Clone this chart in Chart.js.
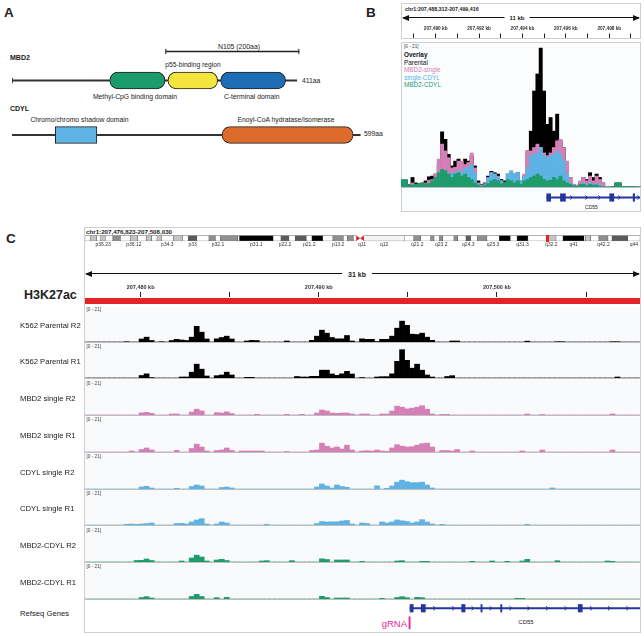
<!DOCTYPE html>
<html>
<head>
<meta charset="utf-8">
<title>MBD2 / CDYL and H3K27ac at CD55</title>
<script src="https://cdn.jsdelivr.net/npm/chart.js@4.4.1/dist/chart.umd.min.js"></script>
<style>
  body { margin: 0; width: 644px; height: 636px; position: relative; overflow: hidden; background: #fff;
         font-family: "Liberation Sans", Arial, Helvetica, sans-serif; color: #222; }
  canvas { position: absolute; }
  .t { position: absolute; white-space: nowrap; line-height: 1; transform: translateY(-50%); }
  .c { transform: translate(-50%, -50%); }
  .r { transform: translate(-100%, -50%); }
  .b { font-weight: bold; }
  .panel { position: absolute; font-weight: bold; font-size: 13.5px; line-height: 1; }
  .box { position: absolute; box-sizing: border-box; border: 1px solid #cfcfcf; }
  .arrow { position: absolute; height: 1.2px; background: #111; }
  .arrow::before, .arrow::after { content: ''; position: absolute; top: -2.4px;
         border-top: 3px solid transparent; border-bottom: 3px solid transparent; }
  .arrow::before { left: -1px; border-right: 7px solid #111; }
  .arrow::after { right: -1px; border-left: 7px solid #111; }
  .track { position: absolute; left: 85px; width: 555px; box-sizing: border-box; background: #f9fafc;
           border-bottom: 1.4px solid #bdbdbd; }
  .range { font-size: 4.7px; color: #444; }
  .tlab { font-size: 7.7px; color: #222; }
  .leg { font-size: 6.4px; }
</style>
</head>
<body>
<!-- panel A -->
<div class="panel" style="left:4px;top:6px">A</div>
<div class="t b" style="left:10px;top:57px;font-size:7px">MBD2</div>
<div class="t c" style="left:239px;top:46.5px;font-size:6.9px">N105 (200aa)</div>
<div class="t c" style="left:193px;top:65px;font-size:6.7px">p55-binding region</div>
<div class="t" style="left:302px;top:80.5px;font-size:6.8px">411aa</div>
<div class="t c" style="left:135px;top:96.7px;font-size:6.8px">Methyl-CpG binding domain</div>
<div class="t c" style="left:251.7px;top:96.7px;font-size:6.8px">C-terminal domain</div>
<div class="t b" style="left:10px;top:108.3px;font-size:7px">CDYL</div>
<div class="t c" style="left:79.5px;top:120px;font-size:6.8px">Chromo/chromo shadow domain</div>
<div class="t c" style="left:286px;top:120px;font-size:6.8px">Enoyl-CoA hydratase/isomerase</div>
<div class="t" style="left:364px;top:134px;font-size:6.8px">599aa</div>

<!-- panel B -->
<div class="panel" style="left:366px;top:6px">B</div>
<div class="box" style="left:401px;top:3px;width:240px;height:36px;background:#fff"></div>
<div class="t b" style="left:405px;top:10px;font-size:5.3px">chr1:207,488,312-207,499,416</div>
<div class="arrow" style="left:403px;top:17px;width:236px"></div>
<div class="t c b" style="left:517px;top:17.6px;font-size:6px;background:#fff;padding:0 5px">11 kb</div>
<div class="box" style="left:401px;top:42px;width:240px;height:170px;background:#fbfcfd"></div>
<div class="t range" style="left:404px;top:46.5px">[0 - 21]</div>
<div class="t leg b" style="left:404px;top:55px;color:#111">Overlay</div>
<div class="t leg" style="left:404px;top:62.6px;color:#111">Parental</div>
<div class="t leg" style="left:404px;top:70.2px;color:#d47fb6">MBD2-single</div>
<div class="t leg" style="left:404px;top:77.8px;color:#5cb3e4">single-CDYL</div>
<div class="t leg" style="left:404px;top:85.4px;color:#1e9c6c">MBD2-CDYL</div>
<div style="position:absolute;left:402px;top:187px;width:238px;height:1.2px;background:#bdbdbd"></div>
<div class="t c" style="left:591.5px;top:207px;font-size:5px">CD55</div>

<!-- panel C -->
<div class="panel t" style="left:6px;top:239px">C</div>
<div class="t b" style="left:86px;top:232px;font-size:6.2px">chr1:207,476,823-207,508,030</div>
<div class="arrow" style="left:86px;top:273px;width:553px"></div>
<div class="t c b" style="left:357px;top:273.6px;font-size:7px;background:#fff;padding:0 6px">31 kb</div>
<div class="t b" style="left:24px;top:295px;font-size:12.5px">H3K27ac</div>
<div class="t tlab" style="left:20px;top:614px">Refseq Genes</div>
<div class="t r" style="left:407px;top:624px;font-size:9.5px;color:#e3289b">gRNA</div>
<div class="t c" style="left:526px;top:621.7px;font-size:6px">CD55</div>

<script>
// ---- A: protein domains, in amino acids ----
const mbd2Length = 411;
const mbd2Domains = [[141, 221], [225, 297], [301, 395]]; // MBD, p55-binding, C-terminal
const n105Span = [222, 414];
const cdylLength = 599;
const cdylDomains = [[74.5, 146], [361, 587]]; // chromo, enoyl-CoA

// ---- B: overlay view, chr1:207,488,312-207,499,416 (kb) ----
const bWindow = [207488.312, 207499.416];
const bRulerTicks = [207489, 207490, 207491, 207492, 207493, 207494, 207495, 207496, 207497, 207498, 207499];
const bRulerLabels = [207490, 207492, 207494, 207496, 207498];
const bParental = [
  1.0, 1.0, 0.4, 1.4, 0.6, 0.5, 0.6, 0.9, 1.5, 1.6,
  1.9, 3.3, 8.1, 7.0, 4.8, 3.1, 3.8, 4.1, 3.6, 4.1,
  3.8, 4.6, 3.1, 0.9, 0.4, 0.6, 1.6, 2.3, 2.1, 1.9,
  1.1, 0.9, 1.9, 2.1, 1.9, 2.1, 0.9, 1.6, 5.3, 8.2,
  14.1, 16.6, 20.4, 14.1, 9.2, 10.2, 8.2, 10.7, 6.8, 5.8,
  2.8, 1.4, 0.4, 0.2, 0.6, 1.4, 1.1, 2.1, 1.4, 1.9,
  1.4, 0.6, 0.1, 0.1, 0.1, 0.6, 0.6, 0.1, 0.1, 0.1,
  0, 0, 0];
const bMbd2Single = [
  0.3, 0.3, 0.3, 0.6, 0.4, 0.4, 0.5, 0.6, 1.0, 1.1,
  1.9, 4.1, 6.3, 5.3, 4.3, 2.8, 2.9, 3.8, 3.8, 3.3,
  3.6, 5.0, 2.8, 0.6, 0.3, 0.5, 1.3, 2.1, 1.9, 1.6,
  0.9, 0.6, 1.9, 2.1, 1.6, 2.1, 0.9, 1.9, 5.3, 5.3,
  5.8, 6.3, 5.8, 5.0, 4.6, 5.0, 5.8, 6.8, 7.0, 5.8,
  3.8, 1.4, 0.4, 0.3, 0.9, 1.4, 0.9, 1.6, 0.9, 1.6,
  1.1, 0.6, 0.1, 0.1, 0, 0, 0, 0, 0, 0,
  0, 0, 0];
const bSingleCdyl = [
  0.3, 0.3, 0.3, 0.4, 0.4, 0.4, 0.4, 0.4, 0.4, 0.6,
  1.1, 1.9, 2.6, 1.9, 2.1, 1.9, 2.1, 2.4, 2.1, 2.8,
  2.8, 3.3, 2.1, 0.4, 0.2, 0.4, 1.4, 2.1, 1.9, 1.4,
  0.9, 0.6, 1.9, 2.4, 1.9, 2.1, 0.9, 1.6, 2.8, 4.6,
  4.8, 5.0, 5.8, 4.6, 4.3, 4.6, 4.8, 5.3, 4.8, 3.8,
  1.9, 0.6, 0.3, 0.1, 0.4, 0.6, 0.4, 0.6, 0.4, 0.5,
  0.3, 0.1, 0, 0, 0, 0, 0, 0, 0, 0,
  0, 0, 0];
const bMbd2Cdyl = [
  1.1, 1.1, 0.3, 0.3, 0.4, 0.5, 0.5, 0.5, 0.5, 0.9,
  1.4, 2.1, 2.6, 2.4, 1.9, 1.4, 1.9, 2.1, 1.6, 1.9,
  1.4, 1.1, 0.6, 0.3, 0.1, 0.3, 0.5, 0.9, 1.1, 0.9,
  0.5, 0.6, 1.1, 0.9, 0.6, 0.9, 0.4, 0.9, 1.1, 1.4,
  1.6, 1.9, 1.6, 1.1, 0.9, 1.0, 1.4, 1.1, 1.6, 0.9,
  0.6, 0.4, 0.2, 0.1, 0.4, 0.4, 0.2, 0.4, 0.3, 0.3,
  0.1, 0.05, 0, 0, 0, 0.6, 0.6, 0.1, 0.1, 0.1,
  0.1, 0.05, 0];

// ---- C: chr1:207,476,823-207,508,030 (kb) ----
const cWindow = [207476.823, 207508.030];
const cRulerTicks = [207480, 207485, 207490, 207495, 207500, 207505];
const cRulerLabels = [207480, 207490, 207500];
const h3k27acRegion = [207470, 207515];
const trackNames = ['K562 Parental R2', 'K562 Parental R1', 'MBD2 single R2', 'MBD2 single R1',
                    'CDYL single R2', 'CDYL single R1', 'MBD2-CDYL R2', 'MBD2-CDYL R1'];
const parentalR2 = [
  0, 0, 0, 0, 0, 0, 0, 0, 0.2, 0,
  0, 1.8, 2.9, 0.9, 0, 0.2, 0, 0.9, 1.6, 1.2,
  0.9, 2.9, 9.4, 5.9, 1.8, 0, 1.9, 2.7, 3.5, 1.8,
  0, 0, 0.6, 1.0, 0.9, 0, 0, 0, 0, 0,
  0.6, 0, 0, 0, 0, 1.0, 3.5, 7.1, 5.3, 2.7,
  1.9, 1.9, 3.9, 0.6, 0, 1.9, 1.6, 1.6, 0.3, 1.6,
  1.6, 3.5, 8.3, 12.5, 10.0, 4.7, 4.5, 5.3, 2.9, 1.0,
  0, 0, 0, 0.6, 0.6, 0, 0, 0, 0, 0,
  0, 0, 0, 0, 0, 0, 0, 0, 0.5, 0,
  0, 0, 0, 0, 0.2, 0.2, 0, 0, 0, 0,
  0, 0, 0, 0, 0, 0.2, 0.2, 0, 0, 0, 0];
const parentalR1 = [
  0, 0, 0, 0, 0, 0, 0, 0, 0, 0,
  0, 1.5, 2.5, 0.3, 0, 0, 0, 0, 0, 0.6,
  0.6, 3.5, 8.3, 5.3, 1.2, 0, 1.4, 1.8, 3.5, 1.8,
  0, 0, 0.4, 0.4, 0, 0, 0, 0, 0, 0,
  0, 0, 0.9, 0.6, 0.6, 1.0, 1.0, 4.7, 4.7, 2.4,
  1.6, 2.5, 4.0, 2.4, 0, 0.3, 0, 0, 0.6, 0.8,
  0.8, 2.5, 10.0, 17.0, 10.6, 5.9, 8.3, 4.7, 1.8, 0.6,
  0, 0, 0.9, 1.4, 0, 0, 0, 0, 0, 0,
  0, 0, 0, 0, 0, 0, 0, 0, 0, 0,
  0, 0, 0, 0, 0, 0, 0, 0, 0, 0,
  0, 0, 0, 0, 0, 0, 0.6, 0, 0, 0, 0];
const mbd2R2 = [
  0, 0, 0, 0, 0, 0, 0, 0, 0, 0,
  0, 1.3, 1.6, 1.0, 0, 0, 0, 0.6, 0.6, 0,
  0, 1.8, 3.5, 2.4, 0, 0, 1.4, 1.2, 1.9, 0.9,
  0, 0, 0, 0, 0.4, 0, 0, 0, 0, 0,
  0.4, 0, 0, 0.4, 0, 0, 1.2, 3.0, 2.4, 1.2,
  1.0, 1.2, 1.2, 0.6, 0, 0.6, 0.6, 0, 0, 0.6,
  0.6, 2.4, 5.3, 4.7, 3.7, 4.1, 4.7, 5.6, 3.5, 0.6,
  0, 0.4, 0.4, 0, 0, 0, 0, 0, 0, 0,
  0, 0, 0, 0, 0, 0, 0, 0, 0.6, 0,
  0, 0.3, 0, 0, 0, 0, 0, 0, 0, 0,
  0, 0, 0, 0, 0, 0.6, 0, 0, 0, 0, 0];
const mbd2R1 = [
  0, 0, 0, 0, 0, 0, 0, 0, 0, 0.6,
  0, 1.5, 2.4, 1.2, 0, 0, 0, 0, 1.0, 0,
  0, 2.1, 4.7, 3.0, 0.6, 0, 0.9, 1.2, 2.4, 0.9,
  0, 0.6, 0.6, 0.6, 0.6, 0.6, 0, 0, 0, 0,
  0.3, 0, 0, 0, 0, 0.9, 1.2, 5.3, 3.5, 2.4,
  3.0, 1.8, 4.1, 1.2, 0, 0.6, 0.8, 0.6, 1.2, 0.6,
  0.4, 2.4, 4.4, 3.5, 3.0, 3.2, 4.1, 5.0, 5.3, 3.0,
  0, 0.9, 0.9, 0.6, 1.5, 0, 0, 0.6, 0, 0,
  0, 0, 0, 0, 0, 0, 0, 0.6, 0, 0,
  0, 1.2, 0, 0, 0, 0, 0, 0, 0, 0,
  0, 0, 0, 0, 0, 1.2, 0, 0, 0, 0, 0];
const cdylR2 = [
  0, 0, 0, 0, 0, 0, 0, 0, 0, 0,
  0, 1.2, 1.6, 0.6, 0, 0, 0, 0, 0.4, 0,
  0, 1.5, 2.4, 1.8, 0, 0, 0, 0.9, 1.2, 0.6,
  0, 0, 0, 0, 0, 0, 0, 0, 0, 0,
  0, 0, 0, 0, 0, 0, 1.2, 3.0, 1.8, 0.6,
  2.4, 1.5, 1.0, 0, 0, 0, 0, 0, 1.9, 0,
  0.4, 1.8, 4.1, 5.3, 4.4, 3.8, 3.8, 4.1, 2.4, 0.6,
  0, 0, 0, 0, 0, 0, 0, 0, 0, 0,
  0, 0, 0, 0, 0, 0, 0, 0, 0, 0,
  0, 0, 0, 0.6, 0, 0, 0, 0, 0, 0,
  0, 0, 0, 0, 0, 0, 0, 0, 0, 0, 0];
const cdylR1 = [
  0, 0, 0, 0, 0, 0, 0, 0, 0.4, 0.6,
  0.4, 0.6, 0.8, 1.2, 0, 0, 0, 0, 0.9, 1.0,
  0.6, 1.8, 3.0, 3.8, 0.6, 0, 0.6, 1.8, 1.2, 0,
  0, 0, 0, 0, 0, 0, 0.4, 0, 0, 0,
  0, 0, 0, 0, 0, 0, 0.9, 2.1, 1.8, 1.9,
  1.9, 2.4, 2.7, 0.6, 0, 1.2, 0.9, 0, 0, 1.8,
  1.2, 1.8, 3.0, 2.5, 2.1, 1.2, 1.8, 3.2, 1.8, 0.6,
  0, 0.4, 0, 0, 0, 0, 0, 0, 0, 0,
  0, 0, 0, 0, 0, 0, 0, 0, 0.4, 0,
  0, 0, 0, 0, 0, 0, 0, 0, 0, 0,
  0, 0, 0, 0, 0, 0, 0, 0, 0, 0, 0];
const dualR2 = [
  0, 0, 0, 0, 0, 0, 0, 0, 0, 0,
  0.9, 1.0, 1.8, 0.9, 0, 0, 0, 0, 0, 0.6,
  0, 2.4, 4.1, 3.0, 0.6, 0, 1.2, 1.6, 0.9, 0,
  0, 0, 0, 0, 0, 0.6, 0.8, 0, 0, 0,
  0, 0.8, 0, 0, 0, 0, 0, 1.9, 1.5, 0,
  1.2, 1.2, 1.2, 0, 0, 0.4, 0, 0, 0, 0,
  0, 0, 0.6, 0.8, 0, 0, 0, 0.4, 0.4, 0,
  0, 0, 0, 0, 0, 0, 0, 0.4, 0, 0,
  0, 0.6, 0, 0, 0.4, 0, 0, 0.6, 1.6, 0,
  0, 0, 0, 0, 0.8, 0, 0, 0, 0, 0,
  0, 0, 0, 0, 0.6, 0.4, 0, 0, 0, 0, 0];
const dualR1 = [
  0, 0, 0, 0, 0, 0, 0, 0, 0, 0,
  0, 0.9, 1.4, 0.6, 0, 0, 0, 0, 0, 0,
  0, 1.5, 2.8, 1.5, 0, 0, 0.8, 0, 1.0, 0,
  0, 0, 0, 0, 0, 0, 0, 0, 0, 0,
  0, 0, 0, 0, 0, 0, 0, 1.6, 0.9, 0,
  0.6, 0.6, 0.6, 0, 0, 0, 0, 0, 0, 0.4,
  0, 0, 0.9, 1.4, 0.8, 0, 1.0, 0.8, 0, 0,
  0, 0, 0, 0, 0, 0, 0, 0, 0, 0,
  0, 0, 0, 0, 0, 0, 0.4, 0.4, 0, 0,
  0, 0, 0, 0, 0, 0, 0, 0, 0, 0,
  0, 0, 0, 0, 0, 0, 0, 0, 0, 0, 0];

// CD55 gene model (kb) and gRNA site
const cd55Span = [207495.12, 207534.3];
const cd55Exons = [[207495.12, 207495.3], [207495.75, 207495.98], [207498.02, 207498.21],
                   [207499.1, 207499.17], [207500.21, 207500.28], [207504.56, 207504.79]];
const cd55StrandC = [207496.49, 207497.56, 207498.64, 207499.65, 207500.77, 207501.78,
                     207502.82, 207503.86, 207505.3, 207506.3, 207507.33];
const cd55StrandB = [207496.25, 207496.95, 207497.55, 207498.46, 207499.35];
const gRnaSite = [207495.06, 207495.13];

// chr1 ideogram (Mb)
const chr1Length = 248.956;
const bandNames = ['p36.33', 'p36.32', 'p36.31', 'p36.23', 'p36.22', 'p36.21', 'p36.13', 'p36.12', 'p36.11', 'p35.3',
  'p35.2', 'p35.1', 'p34.3', 'p34.2', 'p34.1', 'p33', 'p32.3', 'p32.2', 'p32.1', 'p31.3',
  'p31.2', 'p31.1', 'p22.3', 'p22.2', 'p22.1', 'p21.3', 'p21.2', 'p21.1', 'p13.3', 'p13.2',
  'p13.1', 'p12', 'p11.2', 'p11.1', 'q11', 'q12', 'q21.1', 'q21.2', 'q21.3', 'q22',
  'q23.1', 'q23.2', 'q23.3', 'q24.1', 'q24.2', 'q24.3', 'q25.1', 'q25.2', 'q25.3', 'q31.1',
  'q31.2', 'q31.3', 'q32.1', 'q32.2', 'q32.3', 'q41', 'q42.11', 'q42.12', 'q42.13', 'q42.2',
  'q42.3', 'q43', 'q44'];
const bandStarts = [0, 2.3, 5.3, 7.1, 9.1, 12.5, 15.9, 20.3, 23.6, 27.6,
  29.9, 32.3, 34.3, 39.6, 43.7, 46.3, 50.2, 55.6, 58.5, 60.8,
  68.5, 69.3, 84.4, 87.9, 91.5, 94.3, 99.3, 101.8, 106.7, 111.2,
  115.9, 117.7, 120.4, 121.7, 123.4, 125.1, 143.2, 147.5, 150.6, 155.1,
  156.6, 159.1, 160.5, 165.5, 167.2, 170.9, 173.0, 176.1, 180.3, 185.8,
  190.8, 193.8, 198.7, 207.1, 211.3, 214.4, 223.9, 224.4, 226.8, 230.5,
  234.6, 236.4, 243.5];
const bandStains = ['gneg', 'gpos25', 'gneg', 'gpos25', 'gneg', 'gpos50', 'gneg', 'gpos25', 'gneg', 'gpos25',
  'gneg', 'gpos25', 'gneg', 'gpos25', 'gneg', 'gpos75', 'gneg', 'gpos50', 'gneg', 'gpos50',
  'gneg', 'gpos100', 'gneg', 'gpos75', 'gneg', 'gpos75', 'gneg', 'gpos100', 'gneg', 'gpos50',
  'gneg', 'gpos50', 'gneg', 'acen', 'acen', 'gvar', 'gneg', 'gpos50', 'gneg', 'gpos50',
  'gneg', 'gpos50', 'gneg', 'gpos50', 'gneg', 'gpos75', 'gneg', 'gpos50', 'gneg', 'gpos100',
  'gneg', 'gpos100', 'gneg', 'gpos25', 'gneg', 'gpos100', 'gneg', 'gpos25', 'gneg', 'gpos50',
  'gneg', 'gpos75', 'gneg'];
const shownBands = ['p36.23', 'p36.12', 'p34.3', 'p33', 'p32.1', 'p31.1', 'p22.2', 'p21.2', 'p13.2', 'q11',
  'q12', 'q21.2', 'q23.2', 'q24.3', 'q25.3', 'q31.3', 'q32.2', 'q41', 'q42.2', 'q44'];
const locusMb = 207.477;

// ---------------------------------------------------------------
const PINK = '#d47fb6', SKY = '#5cb3e4', GREEN = '#1e9c6c', NAVY = '#25369e';
const stainColors = { gneg: '#ffffff', gvar: '#f4f4f4', gpos25: '#c4c4c4', gpos50: '#8f8f8f',
                      gpos75: '#5a5a5a', gpos100: '#000000', acen: 'rgba(0,0,0,0)' };

Chart.defaults.font.family = '"Liberation Sans", Arial, sans-serif';
Chart.defaults.animation = false;
Chart.defaults.responsive = false;
Chart.defaults.events = [];
Chart.defaults.plugins.legend.display = false;
Chart.defaults.plugins.tooltip.enabled = false;

function addCanvas(left, top, width, height) {
  const c = document.createElement('canvas');
  c.width = width;
  c.height = height;
  c.style.left = left + 'px';
  c.style.top = top + 'px';
  document.body.appendChild(c);
  return c;
}
function addText(cls, left, top, text) {
  const d = document.createElement('div');
  d.className = cls;
  d.style.left = left + 'px';
  d.style.top = top + 'px';
  d.textContent = text;
  document.body.appendChild(d);
}
const bandEnd = (i) => (i + 1 < bandStarts.length ? bandStarts[i + 1] : chr1Length);

// end caps for the N105 bracket
const capsPlugin = {
  id: 'caps',
  afterDatasetsDraw(chart) {
    const ctx = chart.ctx;
    chart.data.datasets.forEach((ds, i) => {
      if (!ds.caps) return;
      chart.getDatasetMeta(i).data.forEach((bar) => {
        if (!Number.isFinite(bar.x) || !Number.isFinite(bar.base)) return;
        ctx.save();
        ctx.strokeStyle = ds.backgroundColor;
        ctx.lineWidth = 1;
        [bar.base, bar.x].forEach((px) => {
          ctx.beginPath();
          ctx.moveTo(px, bar.y - ds.caps);
          ctx.lineTo(px, bar.y + ds.caps);
          ctx.stroke();
        });
        ctx.restore();
      });
    });
  },
};

// strand chevrons along the gene line
const strandPlugin = {
  id: 'strand',
  afterDatasetsDraw(chart, args, opts) {
    if (!opts.positions || !opts.positions.length) return;
    const { ctx, scales: { x, y } } = chart;
    const cy = y.getPixelForValue(0);
    ctx.save();
    ctx.strokeStyle = NAVY;
    ctx.lineWidth = 1;
    opts.positions.forEach((p) => {
      const px = x.getPixelForValue(p);
      ctx.beginPath();
      ctx.moveTo(px - 1.2, cy - 2);
      ctx.lineTo(px + 1.2, cy);
      ctx.lineTo(px - 1.2, cy + 2);
      ctx.stroke();
    });
    ctx.restore();
  },
};

// centromere triangles + red locus box on the ideogram
const ideogramPlugin = {
  id: 'ideogram',
  afterDatasetsDraw(chart) {
    const { ctx, scales: { x } } = chart;
    const el = chart.getDatasetMeta(0).data[0];
    const top = el.y - el.height / 2, bottom = el.y + el.height / 2, mid = el.y;
    ctx.save();
    ctx.fillStyle = '#d42027';
    bandStains.forEach((s, i) => {
      if (s !== 'acen') return;
      const x0 = x.getPixelForValue(bandStarts[i]), x1 = x.getPixelForValue(bandEnd(i));
      ctx.beginPath();
      if (bandNames[i][0] === 'p') { ctx.moveTo(x0, top); ctx.lineTo(x1, mid); ctx.lineTo(x0, bottom); }
      else { ctx.moveTo(x1, top); ctx.lineTo(x0, mid); ctx.lineTo(x1, bottom); }
      ctx.fill();
    });
    const lx = x.getPixelForValue(locusMb);
    ctx.fillStyle = '#e3201e';
    ctx.fillRect(lx - 1.5, top - 1, 3, bottom - top + 2);
    ctx.restore();
  },
};

// ---------- panel A ----------
const pill = { borderColor: '#222', borderWidth: 1, borderSkipped: false, borderRadius: 8.3, barThickness: 16.6 };
new Chart(addCanvas(12, 37, 300, 58), {
  type: 'bar',
  data: {
    labels: ['N105', 'MBD2'],
    datasets: [
      { ...pill, data: [null, mbd2Domains[0]], backgroundColor: '#1c9c6d' },
      { ...pill, data: [null, mbd2Domains[1]], backgroundColor: '#f3e53d' },
      { ...pill, data: [null, mbd2Domains[2]], backgroundColor: '#1d6db5' },
      { data: [n105Span, null], backgroundColor: '#222', barThickness: 1, caps: 2.7 },
      { data: [null, [0, mbd2Length]], backgroundColor: '#333', barThickness: 1.3 },
    ],
  },
  plugins: [capsPlugin],
  options: {
    indexAxis: 'y',
    datasets: { bar: { grouped: false } },
    scales: { x: { type: 'linear', display: false, min: 0, max: 433 }, y: { display: false } },
  },
});

new Chart(addCanvas(12, 125, 350, 20), {
  type: 'bar',
  data: {
    labels: ['CDYL'],
    datasets: [
      { ...pill, data: [cdylDomains[0]], backgroundColor: '#5db3e3', borderRadius: 0 },
      { ...pill, data: [cdylDomains[1]], backgroundColor: '#dc6b2c' },
      { data: [[0, cdylLength]], backgroundColor: '#333', barThickness: 1.3 },
    ],
  },
  options: {
    indexAxis: 'y',
    datasets: { bar: { grouped: false } },
    scales: { x: { type: 'linear', display: false, min: 0, max: 602 }, y: { display: false } },
  },
});

// ---------- shared builders ----------
// the axis box may use at most half the canvas height, so ruler canvases are made tall
function rulerChart(canvas, win, ticks, labelled, fontSize, tickLen) {
  return new Chart(canvas, {
    type: 'scatter',
    data: { datasets: [] },
    options: {
      scales: {
        x: {
          type: 'linear', position: 'top', min: win[0], max: win[1],
          afterBuildTicks: (s) => { s.ticks = ticks.map((v) => ({ value: v })); },
          grid: { drawOnChartArea: false, drawTicks: true, tickLength: tickLen, color: '#222', lineWidth: 1 },
          border: { display: false },
          ticks: {
            autoSkip: false, maxRotation: 0, minRotation: 0, padding: 1.5, color: '#333',
            font: { size: fontSize, weight: 'bold' },
            callback: (v) => (labelled.includes(v) ? v.toLocaleString('en-US') + ' kb' : ''),
          },
        },
        y: { display: false },
      },
    },
  });
}

function featureChart(canvas, win, rows, datasets, arrows) {
  return new Chart(canvas, {
    type: 'bar',
    data: { labels: rows, datasets },
    plugins: [strandPlugin],
    options: {
      indexAxis: 'y',
      datasets: { bar: { grouped: false } },
      scales: { x: { type: 'linear', display: false, min: win[0], max: win[1] }, y: { display: false } },
      plugins: { strand: { positions: arrows || [] } },
    },
  });
}

function geneDatasets(row) {
  return [
    { data: cd55Exons.map((e) => ({ x: e, y: row })), backgroundColor: NAVY, barThickness: 7.5 },
    { data: [{ x: cd55Span, y: row }], backgroundColor: NAVY, barThickness: 1.4 },
  ];
}

function signalChart(canvas, series, colors) {
  return new Chart(canvas, {
    type: 'bar',
    data: {
      labels: series[0].map((_, i) => i),
      datasets: series.map((d, k) => ({ data: d, backgroundColor: colors[k] })),
    },
    options: {
      datasets: { bar: { grouped: false, barPercentage: 1, categoryPercentage: 1 } },
      scales: { x: { display: false }, y: { display: false, min: 0, max: 21 } },
    },
  });
}

// ---------- panel B ----------
rulerChart(addCanvas(399, 25, 241, 26), bWindow, bRulerTicks, bRulerLabels, 4.7, 4.5);
signalChart(addCanvas(401, 44, 240, 143),
  [bMbd2Cdyl, bSingleCdyl, bMbd2Single, bParental], [GREEN, SKY, PINK, '#000']);
featureChart(addCanvas(399, 192, 241, 11), bWindow, ['gene'], geneDatasets('gene'), cd55StrandB);

// ---------- panel C ----------
new Chart(addCanvas(85, 235, 555, 13), {
  type: 'bar',
  data: {
    labels: ['chr1'],
    datasets: [{
      data: bandStarts.map((s, i) => ({ x: [s, bandEnd(i)], y: 'chr1' })),
      backgroundColor: bandStains.map((s) => stainColors[s]),
      borderColor: '#555',
      borderWidth: bandStains.map((s) => (s === 'acen' ? 0 : 0.5)),
      borderSkipped: false,
      barThickness: 5.5,
    }],
  },
  plugins: [ideogramPlugin],
  options: {
    indexAxis: 'y',
    scales: {
      x: {
        type: 'linear', min: 0, max: chr1Length,
        afterBuildTicks: (s) => {
          s.ticks = shownBands.map((n) => {
            const i = bandNames.indexOf(n);
            return { value: (bandStarts[i] + bandEnd(i)) / 2 };
          });
        },
        grid: { display: false, drawTicks: false },
        border: { display: false },
        ticks: { autoSkip: false, maxRotation: 0, minRotation: 0, padding: 0.5, color: '#333',
                 font: { size: 5 }, callback: (v, i) => shownBands[i] },
      },
      y: { display: false },
    },
  },
});

rulerChart(addCanvas(84, 283, 556, 28), cWindow, cRulerTicks, cRulerLabels, 5.5, 5);
featureChart(addCanvas(84, 298, 556, 6), cWindow, ['H3K27ac'],
  [{ data: [h3k27acRegion], backgroundColor: '#e32326', barThickness: 6 }]);

const trackSeries = [parentalR2, parentalR1, mbd2R2, mbd2R1, cdylR2, cdylR1, dualR2, dualR1];
const trackColors = ['#000', '#000', PINK, PINK, SKY, SKY, GREEN, GREEN];
trackNames.forEach((name, k) => {
  const top = 306.5 + k * 36.75;
  const bg = document.createElement('div');
  bg.className = 'track';
  bg.style.top = top + 'px';
  bg.style.height = '36.2px';
  document.body.appendChild(bg);
  addText('t tlab', 20, top + 19, name);
  addText('t range', 86.5, top + 3.6, '[0 - 21]');
  signalChart(addCanvas(84, Math.round(top), 556, 35), [trackSeries[k]], [trackColors[k]]);
});

featureChart(addCanvas(84, 601, 556, 29), cWindow, ['gene', 'gRNA'],
  [...geneDatasets('gene'),
   { data: [{ x: gRnaSite, y: 'gRNA' }], backgroundColor: '#e3289b', barThickness: 12 }],
  cd55StrandC);

// outer frame of panel C
const frame = document.createElement('div');
frame.className = 'box';
Object.assign(frame.style, { left: '84px', top: '227px', width: '557px', height: '406px' });
document.body.appendChild(frame);
</script>
</body>
</html>
